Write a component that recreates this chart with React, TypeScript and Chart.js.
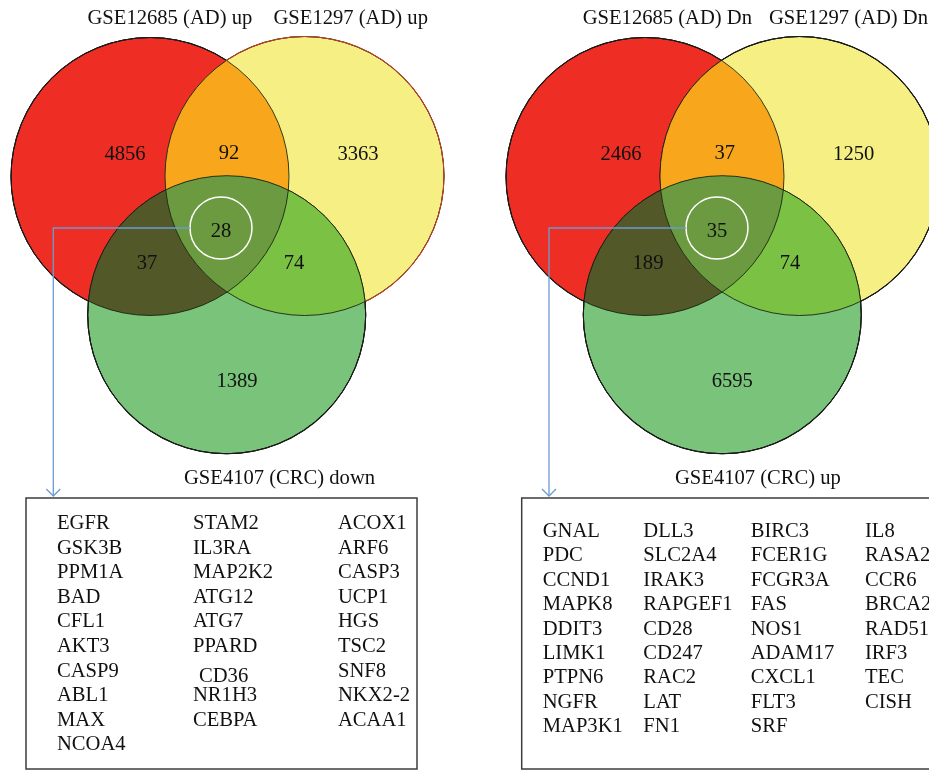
import { useEffect, useRef } from 'react';
import { Chart, registerables } from 'chart.js';
Chart.register(...registerables);

// ---------- data ----------
const upSets = ['GSE12685 (AD) up', 'GSE1297 (AD) up', 'GSE4107 (CRC) down'];
const dnSets = ['GSE12685 (AD) Dn', 'GSE1297 (AD) Dn', 'GSE4107 (CRC) up'];
// regions: A only, A∩B, B only, A∩B∩C, A∩C, B∩C, C only
const regionKeys = ['A', 'AB', 'B', 'ABC', 'AC', 'BC', 'C'];
const upCounts = [4856, 92, 3363, 28, 37, 74, 1389];
const dnCounts = [2466, 37, 1250, 35, 189, 74, 6595];

const upGenesCol1 = ['EGFR', 'GSK3B', 'PPM1A', 'BAD', 'CFL1', 'AKT3', 'CASP9', 'ABL1', 'MAX', 'NCOA4'];
const upGenesCol2 = ['STAM2', 'IL3RA', 'MAP2K2', 'ATG12', 'ATG7', 'PPARD', 'CD36', 'NR1H3', 'CEBPA'];
const upGenesCol3 = ['ACOX1', 'ARF6', 'CASP3', 'UCP1', 'HGS', 'TSC2', 'SNF8', 'NKX2-2', 'ACAA1'];

const dnGenesCol1 = ['GNAL', 'PDC', 'CCND1', 'MAPK8', 'DDIT3', 'LIMK1', 'PTPN6', 'NGFR', 'MAP3K1'];
const dnGenesCol2 = ['DLL3', 'SLC2A4', 'IRAK3', 'RAPGEF1', 'CD28', 'CD247', 'RAC2', 'LAT', 'FN1'];
const dnGenesCol3 = ['BIRC3', 'FCER1G', 'FCGR3A', 'FAS', 'NOS1', 'ADAM17', 'CXCL1', 'FLT3', 'SRF'];
const dnGenesCol4 = ['IL8', 'RASA2', 'CCR6', 'BRCA2', 'RAD51', 'IRF3', 'TEC', 'CISH'];

// ---------- layout / style ----------
const W = 929;
const H = 771;
const FONT = '20.6px "Liberation Serif", "Times New Roman", serif';

const COLORS = {
  A: '#EE2E24',
  B: '#F6F084',
  C: '#7AC37B',
  AB: '#F8A61C',
  AC: '#525827',
  BC: '#7BC143',
  ABC: '#6B9A40',
};

const LAYOUTS = [
  {
    circles: [
      { x: 150, y: 176.5, r: 139 },
      { x: 304.5, y: 176, r: 139.5 },
      { x: 226.7, y: 314.7, r: 139 },
    ],
    outerBorders: ['#1a1a1a', '#B5462A', '#1a1a1a'],
    regionPos: [[125, 153], [229, 152], [358, 153], [221, 230], [147, 262], [294, 262], [237, 380]],
    setPos: [[87.5, 24], [273.5, 24], [184, 484]],
    box: { x1: 26, y1: 498, x2: 417, y2: 769 },
    cols: [57, 193, 338],
    rowStart: 529,
    rowStep: 24.6,
    arrowX: 53.3,
  },
  {
    circles: [
      { x: 645, y: 176.5, r: 139 },
      { x: 799.5, y: 176, r: 139.5 },
      { x: 722.3, y: 314.7, r: 139 },
    ],
    outerBorders: ['#1a1a1a', '#1a1a1a', '#1a1a1a'],
    regionPos: [[621, 153], [724.7, 152], [853.7, 153], [717, 230], [648, 262], [790, 262], [732.3, 380]],
    setPos: [[582.7, 24], [769, 24], [675, 484]],
    box: { x1: 521.7, y1: 498, x2: 940, y2: 769 },
    cols: [542.7, 643.3, 750.7, 865],
    rowStart: 536.7,
    rowStep: 24.45,
    arrowX: 549,
  },
];

const VENNS = [
  { sets: upSets, counts: upCounts, genes: [upGenesCol1, upGenesCol2, upGenesCol3] },
  { sets: dnSets, counts: dnCounts, genes: [dnGenesCol1, dnGenesCol2, dnGenesCol3, dnGenesCol4] },
];

export default function App() {
  const ref = useRef<HTMLCanvasElement>(null);

  useEffect(() => {
    const canvas = ref.current;
    if (!canvas) return;

    const datasets: any[] = [];
    VENNS.forEach((v, vi) => {
      const L = LAYOUTS[vi];
      datasets.push({
        type: 'bubble',
        label: 'circles' + vi,
        data: L.circles.map((c) => ({ x: c.x, y: c.y, r: c.r })),
        backgroundColor: [COLORS.A, COLORS.B, COLORS.C],
        borderColor: L.outerBorders,
        borderWidth: 1,
        hoverRadius: 0,
        clip: false,
      });
      datasets.push({
        type: 'scatter',
        label: 'regions' + vi,
        data: regionKeys.map((k, i) => ({ x: L.regionPos[i][0], y: L.regionPos[i][1] })),
        pointRadius: 0,
        pointHoverRadius: 0,
        clip: false,
      });
    });

    const vennPlugin = {
      id: 'vennPlugin',
      afterDatasetsDraw(chart: any) {
        const ctx: CanvasRenderingContext2D = chart.ctx;
        const xs = chart.scales.x;
        const ys = chart.scales.y;
        const px = (v: number) => xs.getPixelForValue(v);
        const py = (v: number) => ys.getPixelForValue(v);

        VENNS.forEach((v, vi) => {
          const L = LAYOUTS[vi];
          const circMeta = chart.getDatasetMeta(vi * 2).data;
          const circ = circMeta.map((el: any) => ({ x: el.x, y: el.y, r: el.options.radius }));
          const regMeta = chart.getDatasetMeta(vi * 2 + 1).data;

          const fillInter = (idx: number[], color: string) => {
            ctx.save();
            idx.forEach((i) => {
              ctx.beginPath();
              ctx.arc(circ[i].x, circ[i].y, circ[i].r, 0, Math.PI * 2);
              ctx.clip();
            });
            ctx.fillStyle = color;
            ctx.fillRect(0, 0, chart.width, chart.height);
            ctx.restore();
          };
          fillInter([0, 1], COLORS.AB);
          fillInter([0, 2], COLORS.AC);
          fillInter([1, 2], COLORS.BC);
          fillInter([0, 1, 2], COLORS.ABC);

          // outlines: dark everywhere, then the outer colour outside the other circles
          ctx.save();
          ctx.lineWidth = 1;
          circ.forEach((c: any) => {
            ctx.beginPath();
            ctx.arc(c.x, c.y, c.r, 0, Math.PI * 2);
            ctx.strokeStyle = 'rgba(20,30,15,0.85)';
            ctx.stroke();
          });
          ctx.restore();
          circ.forEach((c: any, i: number) => {
            ctx.save();
            circ.forEach((o: any, j: number) => {
              if (j === i) return;
              ctx.beginPath();
              ctx.rect(0, 0, chart.width, chart.height);
              ctx.arc(o.x, o.y, o.r - 0.5, 0, Math.PI * 2, true);
              ctx.clip('evenodd');
            });
            ctx.beginPath();
            ctx.arc(c.x, c.y, c.r, 0, Math.PI * 2);
            ctx.strokeStyle = L.outerBorders[i];
            ctx.lineWidth = 1.1;
            ctx.stroke();
            ctx.restore();
          });

          // white highlight circle around center region
          const center = regMeta[3];
          const hr = 31;
          ctx.save();
          ctx.strokeStyle = '#ffffff';
          ctx.lineWidth = 1.5;
          ctx.beginPath();
          ctx.arc(center.x, center.y - 2, hr, 0, Math.PI * 2);
          ctx.stroke();

          // connector line with arrow
          const ax = px(L.arrowX);
          const tipY = py(496);
          ctx.strokeStyle = '#6C9BD2';
          ctx.lineWidth = 1.3;
          ctx.beginPath();
          ctx.moveTo(center.x - hr, center.y - 2);
          ctx.lineTo(ax, center.y - 2);
          ctx.lineTo(ax, tipY);
          ctx.stroke();
          ctx.beginPath();
          ctx.moveTo(ax - 7, tipY - 7);
          ctx.lineTo(ax, tipY);
          ctx.lineTo(ax + 7, tipY - 7);
          ctx.stroke();
          ctx.restore();

          // region counts
          ctx.save();
          ctx.font = FONT;
          ctx.fillStyle = '#111111';
          ctx.textAlign = 'center';
          ctx.textBaseline = 'alphabetic';
          regMeta.forEach((el: any, i: number) => {
            ctx.fillText(String(v.counts[i]), el.x, el.y + 6.8);
          });

          // set labels
          ctx.textAlign = 'left';
          v.sets.forEach((s, i) => {
            ctx.fillText(s, px(L.setPos[i][0]), py(L.setPos[i][1]));
          });

          // gene box
          const b = L.box;
          ctx.strokeStyle = '#3c3c3c';
          ctx.lineWidth = 1.5;
          ctx.strokeRect(px(b.x1), py(b.y1), px(b.x2) - px(b.x1), py(b.y2) - py(b.y1));

          v.genes.forEach((col, ci) => {
            col.forEach((g, ri) => {
              let gx = L.cols[ci];
              let gy = L.rowStart + ri * L.rowStep;
              if (vi === 0 && g === 'CD36') {
                gx += 6;
                gy += 5;
              }
              ctx.fillText(g, px(gx), py(gy));
            });
          });
          ctx.restore();
        });
      },
    };

    const chart = new Chart(canvas, {
      type: 'bubble',
      data: { datasets },
      options: {
        responsive: false,
        animation: false,
        events: [],
        layout: { padding: 0, autoPadding: false },
        plugins: { legend: { display: false }, tooltip: { enabled: false } },
        scales: {
          x: { type: 'linear', min: 0, max: W, display: false },
          y: { type: 'linear', min: 0, max: H, reverse: true, display: false },
        },
      },
      plugins: [vennPlugin],
    } as any);

    return () => chart.destroy();
  }, []);

  return (
    <div style={{ position: 'absolute', left: 0, top: 0, width: W, height: H, background: '#ffffff' }}>
      <canvas ref={ref} width={W} height={H} style={{ display: 'block', width: W, height: H }} />
    </div>
  );
}
